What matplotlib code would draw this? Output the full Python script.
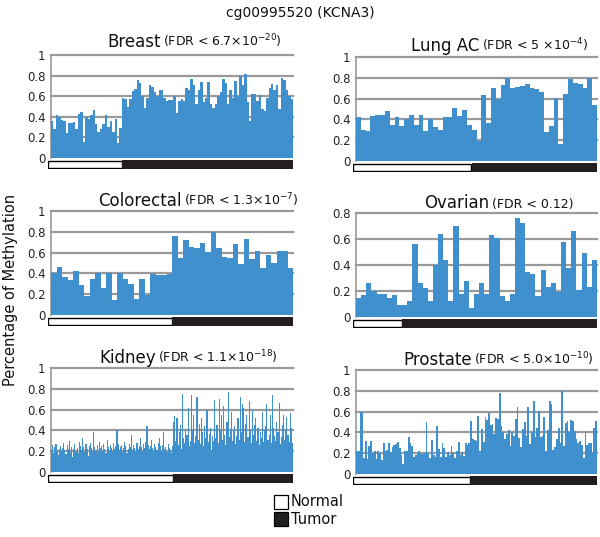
import matplotlib
matplotlib.use("Agg")
import matplotlib.pyplot as plt
from matplotlib.patches import Rectangle

# ---------------- data ----------------
breast_normal = [0.36,0.28,0.42,0.40,0.37,0.36,0.24,0.34,0.34,0.35,0.28,0.43,0.45,0.16,0.40,
                 0.38,0.42,0.47,0.33,0.25,0.28,0.33,0.42,0.30,0.36,0.25,0.38,0.15,0.29]
breast_tumor = [0.58,0.57,0.50,0.57,0.65,0.67,0.76,0.73,0.60,0.49,0.58,0.71,0.69,0.64,0.60,
                0.66,0.66,0.58,0.55,0.56,0.56,0.60,0.44,0.55,0.57,0.55,0.68,0.66,0.77,0.71,
                0.52,0.66,0.74,0.54,0.58,0.74,0.52,0.49,0.52,0.60,0.64,0.77,0.73,0.52,0.66,
                0.58,0.75,0.60,0.80,0.71,0.82,0.54,0.36,0.62,0.62,0.55,0.61,0.48,0.46,0.58,
                0.68,0.72,0.66,0.71,0.48,0.78,0.76,0.66,0.60,0.57]

lung_normal = [0.42,0.30,0.29,0.43,0.44,0.44,0.48,0.35,0.42,0.34,0.40,0.44,0.35,0.44,0.29,
               0.40,0.33,0.30,0.42,0.42,0.51,0.43,0.49,0.35]
lung_tumor = [0.30,0.19,0.63,0.37,0.70,0.60,0.73,0.80,0.70,0.71,0.72,0.74,0.70,0.69,0.66,
              0.28,0.34,0.61,0.16,0.64,0.79,0.75,0.74,0.70,0.80,0.54]

colorectal_normal = [0.40,0.46,0.37,0.34,0.42,0.29,0.18,0.35,0.40,0.26,0.40,0.14,0.40,0.35,
                     0.30,0.15,0.35,0.19,0.39,0.38,0.38,0.39]
colorectal_tumor = [0.76,0.55,0.72,0.65,0.64,0.69,0.61,0.80,0.64,0.56,0.55,0.68,0.49,0.73,
                    0.54,0.62,0.45,0.58,0.50,0.62,0.62,0.45]

ovarian_normal = [0.15,0.17,0.26,0.20,0.18,0.18,0.15,0.17,0.09]
ovarian_tumor = [0.09,0.12,0.56,0.26,0.22,0.12,0.40,0.64,0.44,0.12,0.70,0.18,0.28,0.07,0.18,
                 0.26,0.18,0.63,0.61,0.16,0.12,0.18,0.76,0.72,0.35,0.33,0.16,0.36,0.23,0.26,
                 0.19,0.58,0.38,0.66,0.21,0.49,0.23,0.44]

kidney_normal = [0.21,0.26,0.18,0.24,0.27,0.20,0.16,0.22,0.25,0.19,0.23,0.28,0.21,0.17,0.26,
                 0.22,0.30,0.19,0.24,0.14,0.22,0.27,0.20,0.23,0.18,0.29,0.25,0.21,0.33,0.24,
                 0.19,0.27,0.22,0.15,0.25,0.28,0.23,0.20,0.38,0.24,0.21,0.26,0.19,0.29,0.23,
                 0.25,0.20,0.27,0.22,0.18,0.31,0.24,0.21,0.26,0.23,0.19,0.28,0.22,0.25,0.40,
                 0.27,0.21,0.24,0.26,0.20,0.23,0.29,0.25,0.18,0.22,0.27,0.24,0.36,0.21,0.26,
                 0.23,0.19,0.28,0.22,0.25,0.33,0.24,0.20,0.27,0.23,0.29,0.44,0.26,0.22,0.25,
                 0.31,0.23,0.19,0.27,0.24,0.21,0.28,0.33,0.25,0.20,0.26,0.38,0.22,0.24,0.19,
                 0.27,0.23,0.21,0.18,0.25]
kidney_tumor = [0.48,0.54,0.30,0.52,0.26,0.38,0.45,0.22,0.75,0.33,0.28,0.41,0.36,0.62,0.25,
                0.30,0.74,0.40,0.55,0.28,0.35,0.72,0.31,0.46,0.27,0.52,0.38,0.25,0.44,0.33,
                0.60,0.29,0.37,0.42,0.21,0.35,0.30,0.69,0.33,0.45,0.28,0.70,0.40,0.55,0.31,
                0.63,0.36,0.26,0.48,0.77,0.34,0.41,0.58,0.30,0.39,0.44,0.27,0.35,0.52,0.31,
                0.72,0.38,0.65,0.62,0.29,0.46,0.55,0.34,0.68,0.40,0.28,0.60,0.36,0.45,0.52,
                0.30,0.42,0.26,0.38,0.33,0.58,0.29,0.40,0.44,0.65,0.31,0.36,0.55,0.28,0.74,
                0.42,0.35,0.30,0.48,0.38,0.66,0.27,0.34,0.45,0.55,0.31,0.40,0.53,0.36,0.29,
                0.57,0.42,0.28]

prostate_normal = [0.22,0.22,0.60,0.60,0.15,0.32,0.14,0.27,0.32,0.20,0.22,0.14,0.22,0.20,0.13,
                   0.30,0.22,0.23,0.30,0.21,0.26,0.28,0.29,0.31,0.25,0.18,0.10,0.22,0.22,0.36,
                   0.30,0.27,0.16,0.18,0.20,0.22,0.20,0.19,0.20,0.50,0.20,0.15,0.33,0.18,0.16,
                   0.46,0.24,0.16,0.30,0.25,0.16,0.21,0.18,0.27,0.20,0.15,0.22,0.31,0.18,0.21,
                   0.17,0.30,0.28,0.30]
prostate_tumor = [0.51,0.34,0.33,0.32,0.56,0.22,0.43,0.31,0.55,0.52,0.59,0.47,0.48,0.38,0.54,
                  0.53,0.78,0.46,0.40,0.34,0.38,0.42,0.27,0.40,0.37,0.53,0.64,0.35,0.26,0.43,
                  0.50,0.37,0.64,0.29,0.40,0.70,0.36,0.44,0.61,0.36,0.37,0.55,0.22,0.42,0.70,
                  0.67,0.23,0.26,0.34,0.44,0.30,0.80,0.27,0.49,0.51,0.40,0.52,0.51,0.41,0.34,
                  0.30,0.32,0.28,0.15,0.40,0.28,0.30,0.30,0.20,0.44,0.51]

tissues = ["Breast", "Lung AC", "Colorectal", "Ovarian", "Kidney", "Prostate"]
fdr_labels = [r"(FDR < 6.7×10$^{-20}$)", r"(FDR < 5 ×10$^{-4}$)", r"(FDR < 1.3×10$^{-7}$)",
              r"(FDR < 0.12)", r"(FDR < 1.1×10$^{-18}$)", r"(FDR < 5.0×10$^{-10}$)"]
normals = [breast_normal, lung_normal, colorectal_normal, ovarian_normal, kidney_normal, prostate_normal]
tumors = [breast_tumor, lung_tumor, colorectal_tumor, ovarian_tumor, kidney_tumor, prostate_tumor]
ymaxes = [1.0, 1.0, 1.0, 0.8, 1.0, 1.0]

# ---------------- layout (pixels) ----------------
W, H = 600, 537
# left, right, y of top tick, y of zero, title x, title baseline y
geo = [
    (51, 293, 55, 158, 107, 47),
    (356, 597, 57, 161, 411, 51),
    (51, 293, 211, 315, 98, 206),
    (356, 597, 213, 317, 424, 208),
    (51, 293, 368, 472, 99, 363),
    (356, 597, 370, 474, 403, 365),
]

BLUE = "#4190CE"
GRID = "#9a9a9a"

fig = plt.figure(figsize=(W / 100, H / 100), dpi=100)
plt.rcParams['font.family'] = ['DejaVu Sans']
plt.rcParams['mathtext.default'] = 'regular'

def fx(px):
    return px / W

def fy(py):
    return 1 - py / H

for i in range(6):
    left, right, ytop, y0, tx, ty = geo[i]
    ymax = ymaxes[i]
    vals = normals[i] + tumors[i]
    n = len(vals)
    ppu = (y0 - ytop) / ymax
    extra = 2.0
    ax = fig.add_axes([fx(left), fy(y0), fx(right - left), (y0 - ytop + extra) / H])
    ax.set_ylim(0, ymax + extra / ppu)
    ax.set_xlim(-0.5, n - 0.5)
    ax.bar(range(n), vals, width=1.0, color=BLUE, edgecolor='none', zorder=3)
    ticks = [0, 0.2, 0.4, 0.6, 0.8, 1.0] if ymax == 1.0 else [0, 0.2, 0.4, 0.6, 0.8]
    for t in ticks[1:]:
        ax.axhline(t, color=GRID, lw=1.6, zorder=1, clip_on=False)
    ax.set_yticks(ticks)
    ax.set_yticklabels([("%g" % t) for t in ticks], fontsize=8.5, color='#222222')
    ax.tick_params(axis='y', length=0, pad=4)
    ax.set_xticks([])
    for s in ['top', 'right', 'bottom']:
        ax.spines[s].set_visible(False)
    ax.spines['left'].set_color(GRID)
    ax.spines['left'].set_linewidth(1.2)
    ax.spines['left'].set_bounds(0, ymax)

    # status bar
    sb = fig.add_axes([fx(left - 3), fy(y0 + 11), fx(right - left + 3), 9 / H])
    off = 3 * n / (right - left)
    sb.set_xlim(-0.5 - off, n - 0.5)
    sb.set_ylim(0, 1)
    nn = len(normals[i])
    sb.add_patch(Rectangle((-0.5 - off + 0.05, 0.06), nn + off - 0.1, 0.88,
                           facecolor='white', edgecolor='black', lw=1.0))
    sb.add_patch(Rectangle((nn - 0.5, 0), n - nn, 1, facecolor='#231f20', edgecolor='none'))
    sb.axis('off')

    # titles
    t1 = fig.text(fx(tx), fy(ty), tissues[i], fontsize=12, ha='left', va='baseline',
                  color='#111111')
    ax.annotate(fdr_labels[i], xy=(1, 0), xycoords=t1, xytext=(2, 0.5),
                textcoords='offset points', fontsize=9, ha='left', va='bottom',
                color='#111111', annotation_clip=False)

fig.text(0.5, fy(13), "cg00995520 (KCNA3)", fontsize=10, ha='center', va='center', color='#111111')
fig.text(fx(11), fy(290), "Percentage of Methylation", fontsize=10.5, rotation=90,
         ha='center', va='center', color='#111111')

# legend
for j, (lab, fc) in enumerate([("Normal", 'white'), ("Tumor", '#231f20')]):
    yy = 495 + j * 17
    fig.patches.append(Rectangle((fx(274), fy(yy + 14)), fx(14), 14 / H, facecolor=fc,
                                 edgecolor='black', lw=0.9, transform=fig.transFigure, figure=fig))
    fig.text(fx(291), fy(yy + 7), lab, fontsize=10.5, ha='left', va='center', color='#111111')

fig.savefig("out.png", dpi=100)
